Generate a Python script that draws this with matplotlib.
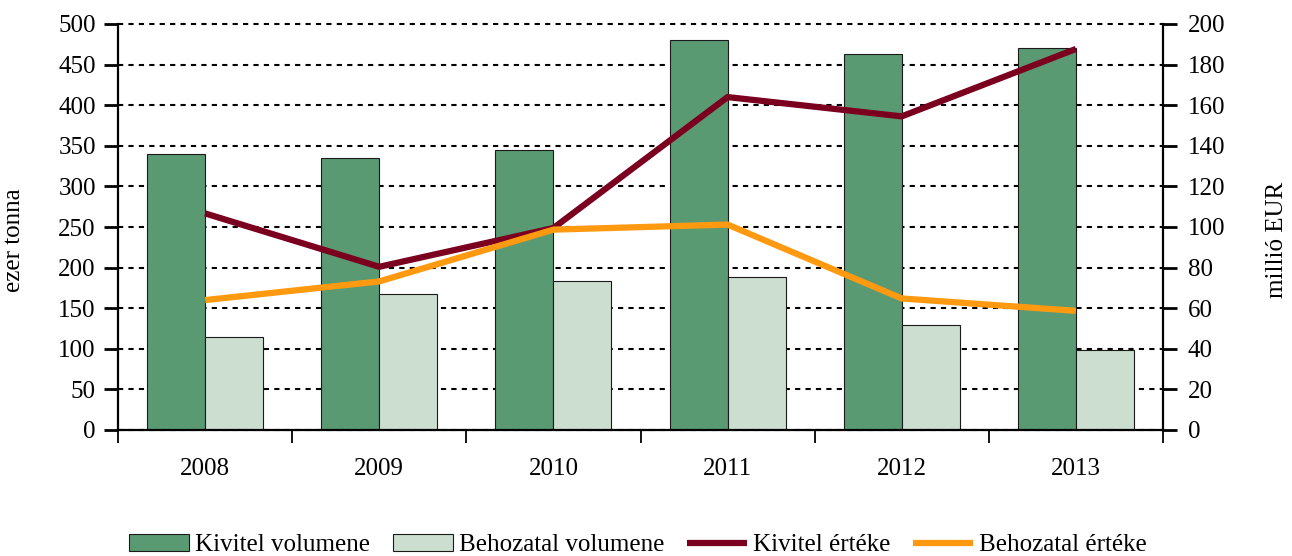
import numpy as np
import matplotlib.pyplot as plt

# data
years = ["2008", "2009", "2010", "2011", "2012", "2013"]
kivitel_volumen = [340, 335, 345, 480, 463, 470]      # ezer tonna
behozatal_volumen = [115, 168, 183, 189, 129, 99]     # ezer tonna
kivitel_ertek = [106.7, 80.4, 99.5, 164, 154.5, 187.7]  # millió EUR
behozatal_ertek = [64, 73.2, 98.7, 101.2, 64.8, 58.7]   # millió EUR

plt.rcParams['font.family'] = ['Liberation Serif', 'DejaVu Serif']
plt.rcParams['font.size'] = 18

fig = plt.figure(figsize=(12.92, 5.56), dpi=100)
ax = fig.add_axes([118 / 1292, 1 - 430 / 556, (1163 - 118) / 1292, (430 - 24) / 556])

x = np.arange(len(years))
w = 0.333
ax.bar(x - w / 2, kivitel_volumen, w, color="#5A9A73", edgecolor="#1a1a1a",
       linewidth=0.8, label="Kivitel volumene", zorder=2)
ax.bar(x + w / 2, behozatal_volumen, w, color="#CCDED0", edgecolor="#1a1a1a",
       linewidth=0.8, label="Behozatal volumene", zorder=2)

ax.set_xlim(-0.5, len(years) - 0.5)
ax.set_ylim(0, 500)
ax.set_yticks(np.arange(0, 501, 50))
ax.set_axisbelow(True)
ax.yaxis.grid(True, linestyle=(0, (2.5, 2.5)), color="black", linewidth=1.5)
for gl in ax.get_ygridlines():
    gl.set_clip_on(False)
ax.set_xticks(x)
ax.set_xticklabels(years)
ax.set_xticks(np.arange(-0.5, len(years) + 0.5, 1), minor=True)
ax.tick_params(axis="x", which="major", length=0, pad=20)
ax.tick_params(axis="x", which="minor", length=9, width=1.3, direction="out")
ax.tick_params(axis="y", length=10, width=2, direction="out", pad=6)
for s in ["top", "right"]:
    ax.spines[s].set_visible(False)
ax.spines["left"].set_linewidth(1.6)
ax.spines["bottom"].set_linewidth(1.6)

ax2 = ax.twinx()
ax2.plot(x, kivitel_ertek, color="#7B0020", linewidth=4.5, label="Kivitel értéke",
         solid_capstyle="butt")
ax2.plot(x, behozatal_ertek, color="#FF9910", linewidth=4.5, label="Behozatal értéke",
         solid_capstyle="butt")
ax2.set_ylim(0, 200)
ax2.set_yticks(np.arange(0, 201, 20))
ax2.tick_params(axis="y", length=10, width=2, direction="out", pad=8)
for s in ["top", "left", "bottom"]:
    ax2.spines[s].set_visible(False)
ax2.spines["right"].set_linewidth(1.6)

# axis titles
fig.text(14 / 1292, 1 - 240 / 556, "ezer tonna", rotation=90, ha="center", va="center")
fig.text(1277 / 1292, 1 - 240 / 556, "millió EUR", rotation=90, ha="center", va="center")

h1, l1 = ax.get_legend_handles_labels()
h2, l2 = ax2.get_legend_handles_labels()
fig.legend(h1 + h2, l1 + l2, loc="center", bbox_to_anchor=(638 / 1292, 1 - 545 / 556),
           ncol=4, frameon=False, handlelength=2.4, handleheight=0.65,
           columnspacing=0.9, handletextpad=0.25, borderpad=0.1)

fig.savefig("out.png", dpi=100)
